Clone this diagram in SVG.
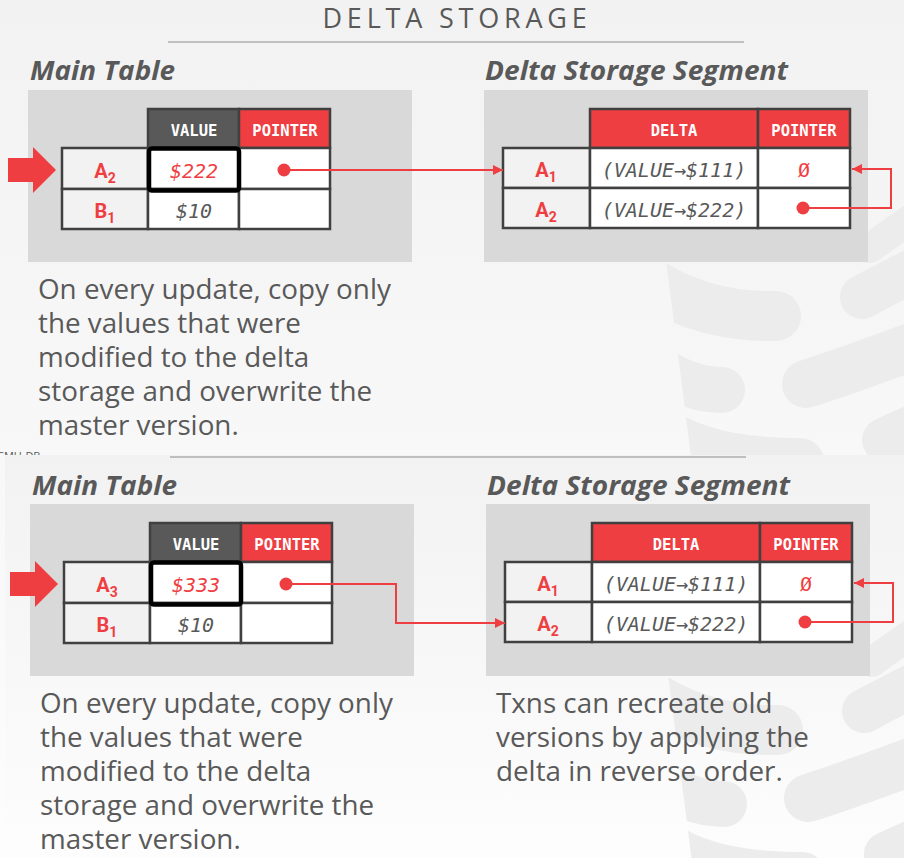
<svg xmlns="http://www.w3.org/2000/svg" xmlns:xlink="http://www.w3.org/1999/xlink" width="904" height="858" viewBox="0 0 904 858">
<defs>
<style>
.title{font-family:"Open Sans","Liberation Sans",sans-serif;font-size:27px;fill:#595959;letter-spacing:4.8px;text-anchor:middle}
.sub{font-family:"Open Sans","Liberation Sans",sans-serif;font-weight:bold;font-style:italic;font-size:27px;fill:#595959}
.body{font-family:"Open Sans","Liberation Sans",sans-serif;font-size:27.8px;fill:#595959}
.hdr{font-family:"DejaVu Sans Mono",monospace;font-weight:bold;font-size:15.5px;fill:#ffffff;text-anchor:middle}
.cell{font-family:"DejaVu Sans Mono",monospace;font-style:italic;font-size:20px;fill:#595959;text-anchor:middle}
.red{fill:#ef3e42}
.key{font-family:"Roboto","Liberation Sans",sans-serif;font-weight:bold;font-size:20px;fill:#ef3e42;text-anchor:middle}
.ks{font-size:14px}
.box{fill:#d9d9d9}
.kc{fill:#f2f2f2;stroke:#404040;stroke-width:2.5}
.vc{fill:#ffffff;stroke:#404040;stroke-width:2.5}
.hd{fill:#595959;stroke:#404040;stroke-width:2.5}
.hr{fill:#ef3e42;stroke:#404040;stroke-width:2.5}
.sel{fill:none;stroke:#000;stroke-width:4.5}
.conn{fill:none;stroke:#ef3e42;stroke-width:2}
.dot{fill:#ef3e42}
.band{fill:none;stroke:#ececec;stroke-linecap:round}
.rule{stroke:#bfbfbf;stroke-width:2}
</style>
<linearGradient id="bg" x1="0" y1="0" x2="0" y2="1">
<stop offset="0" stop-color="#f2f2f2"/>
<stop offset="1" stop-color="#fdfdfd"/>
</linearGradient>
<marker id="ah" viewBox="0 0 10 10" refX="10" refY="5" markerWidth="10" markerHeight="10" markerUnits="userSpaceOnUse" orient="auto">
<path d="M0,0 L10,5 L0,10 z" fill="#ef3e42"/>
</marker>
<clipPath id="cyl"><polygon points="652,150 960,150 960,480 694,480"/></clipPath>
<clipPath id="topclip"><rect x="-10" y="0" width="920" height="455"/></clipPath>
<g id="logo" clip-path="url(#cyl)">
<path class="band" stroke-width="30" d="M870 248 Q892 232 930 206"/>
<path class="band" stroke-width="50" d="M640 276 Q700 318 776 316"/>
<path class="band" stroke-width="44" d="M862 297 Q890 282 930 262"/>
<path class="band" stroke-width="46" d="M645 360 Q685 390 722 390"/>
<path class="band" stroke-width="48" d="M806 384 Q850 370 930 340"/>
<path class="band" stroke-width="48" d="M655 425 Q700 462 800 462"/>
<path class="band" stroke-width="44" d="M884 440 Q900 432 930 420"/>
</g>
</defs>

<!-- top slide -->
<rect x="0" y="0" width="904" height="858" fill="url(#bg)"/>
<g clip-path="url(#topclip)"><use xlink:href="#logo"/></g>
<text x="457" y="28" class="title">DELTA STORAGE</text>
<line class="rule" x1="168" y1="42" x2="744" y2="42"/>
<text x="30" y="80" class="sub" textLength="145" lengthAdjust="spacingAndGlyphs">Main Table</text>
<text x="485" y="80" class="sub" textLength="303" lengthAdjust="spacingAndGlyphs">Delta Storage Segment</text>
<rect class="box" x="28" y="90" width="384" height="172"/>
<rect class="box" x="484" y="90" width="384" height="172"/>

<g id="main-table-1">
<polygon class="dot" points="8,158 33,158 33,147 56,170 33,193 33,182 8,182"/>
<rect class="hd" x="148" y="109" width="91" height="39"/>
<rect class="hr" x="239" y="109" width="91" height="39"/>
<text class="hdr" x="194" y="136">VALUE</text>
<text class="hdr" x="285" y="136">POINTER</text>
<rect class="kc" x="62" y="148" width="86" height="41"/>
<rect class="vc" x="148" y="148" width="91" height="41"/>
<rect class="vc" x="239" y="148" width="91" height="41"/>
<rect class="kc" x="62" y="189" width="86" height="40"/>
<rect class="vc" x="148" y="189" width="91" height="40"/>
<rect class="vc" x="239" y="189" width="91" height="40"/>
<rect class="sel" x="149" y="148.5" width="90" height="42" rx="3"/>
<text class="key" x="105" y="178">A<tspan class="ks" dy="5">2</tspan></text>
<text class="key" x="105" y="218">B<tspan class="ks" dy="5">1</tspan></text>
<text class="cell red" x="194" y="178">$222</text>
<text class="cell" x="194" y="218">$10</text>
<circle class="dot" cx="284" cy="170" r="6.5"/>
</g>

<g id="delta-table-1">
<rect class="hr" x="590" y="109" width="168" height="39"/>
<rect class="hr" x="758" y="109" width="92" height="39"/>
<text class="hdr" x="674" y="136">DELTA</text>
<text class="hdr" x="804" y="136">POINTER</text>
<rect class="kc" x="503" y="148" width="87" height="40"/>
<rect class="vc" x="590" y="148" width="168" height="40"/>
<rect class="vc" x="758" y="148" width="92" height="40"/>
<rect class="kc" x="503" y="188" width="87" height="40"/>
<rect class="vc" x="590" y="188" width="168" height="40"/>
<rect class="vc" x="758" y="188" width="92" height="40"/>
<text class="key" x="546" y="177">A<tspan class="ks" dy="5">1</tspan></text>
<text class="key" x="546" y="217">A<tspan class="ks" dy="5">2</tspan></text>
<text class="cell" x="674" y="177">(VALUE→$111)</text>
<text class="cell" x="674" y="217">(VALUE→$222)</text>
<text class="cell red" x="804" y="177" style="font-style:normal">Ø</text>
<circle class="dot" cx="803" cy="208" r="6.5"/>
</g>

<g id="connectors-1">
<path class="conn" d="M284 170 H503" marker-end="url(#ah)"/>
<path class="conn" d="M803 208 H891 V169 H852" marker-end="url(#ah)"/>
</g>

<g id="text-1">
<text class="body" x="38" y="299">On every update, copy only</text>
<text class="body" x="38" y="333">the values that were</text>
<text class="body" x="38" y="367">modified to the delta</text>
<text class="body" x="38" y="401">storage and overwrite the</text>
<text class="body" x="38" y="435">master version.</text>
</g>
<g clip-path="url(#topclip)"><text x="-3" y="460" style="font-family:'Open Sans','Liberation Sans',sans-serif;font-size:11px;fill:#595959">CMU-DB</text></g>

<!-- bottom slide -->
<rect x="5" y="455" width="899" height="403" fill="url(#bg)"/>
<g transform="translate(2,414)">
<use xlink:href="#logo"/>
<line class="rule" x1="168" y1="43" x2="744" y2="43"/>
<text x="30" y="81" class="sub" textLength="145" lengthAdjust="spacingAndGlyphs">Main Table</text>
<text x="485" y="81" class="sub" textLength="303" lengthAdjust="spacingAndGlyphs">Delta Storage Segment</text>
<rect class="box" x="28" y="90" width="384" height="172"/>
<rect class="box" x="484" y="90" width="384" height="172"/>

<g id="main-table-2">
<polygon class="dot" points="8,158 33,158 33,147 56,170 33,193 33,182 8,182"/>
<rect class="hd" x="148" y="109" width="91" height="39"/>
<rect class="hr" x="239" y="109" width="91" height="39"/>
<text class="hdr" x="194" y="136">VALUE</text>
<text class="hdr" x="285" y="136">POINTER</text>
<rect class="kc" x="62" y="148" width="86" height="41"/>
<rect class="vc" x="148" y="148" width="91" height="41"/>
<rect class="vc" x="239" y="148" width="91" height="41"/>
<rect class="kc" x="62" y="189" width="86" height="40"/>
<rect class="vc" x="148" y="189" width="91" height="40"/>
<rect class="vc" x="239" y="189" width="91" height="40"/>
<rect class="sel" x="149" y="148.5" width="90" height="42" rx="3"/>
<text class="key" x="105" y="178">A<tspan class="ks" dy="5">3</tspan></text>
<text class="key" x="105" y="218">B<tspan class="ks" dy="5">1</tspan></text>
<text class="cell red" x="194" y="178">$333</text>
<text class="cell" x="194" y="218">$10</text>
<circle class="dot" cx="284" cy="170" r="6.5"/>
</g>

<g id="delta-table-2">
<rect class="hr" x="590" y="109" width="168" height="39"/>
<rect class="hr" x="758" y="109" width="92" height="39"/>
<text class="hdr" x="674" y="136">DELTA</text>
<text class="hdr" x="804" y="136">POINTER</text>
<rect class="kc" x="503" y="148" width="87" height="40"/>
<rect class="vc" x="590" y="148" width="168" height="40"/>
<rect class="vc" x="758" y="148" width="92" height="40"/>
<rect class="kc" x="503" y="188" width="87" height="40"/>
<rect class="vc" x="590" y="188" width="168" height="40"/>
<rect class="vc" x="758" y="188" width="92" height="40"/>
<text class="key" x="546" y="177">A<tspan class="ks" dy="5">1</tspan></text>
<text class="key" x="546" y="217">A<tspan class="ks" dy="5">2</tspan></text>
<text class="cell" x="674" y="177">(VALUE→$111)</text>
<text class="cell" x="674" y="217">(VALUE→$222)</text>
<text class="cell red" x="804" y="177" style="font-style:normal">Ø</text>
<circle class="dot" cx="803" cy="208" r="6.5"/>
</g>

<g id="connectors-2">
<path class="conn" d="M284 170 H394 V209 H503" marker-end="url(#ah)"/>
<path class="conn" d="M803 208 H891 V169 H852" marker-end="url(#ah)"/>
</g>

<g id="text-2">
<text class="body" x="38" y="299">On every update, copy only</text>
<text class="body" x="38" y="333">the values that were</text>
<text class="body" x="38" y="367">modified to the delta</text>
<text class="body" x="38" y="401">storage and overwrite the</text>
<text class="body" x="38" y="435">master version.</text>
<text class="body" x="494" y="299">Txns can recreate old</text>
<text class="body" x="494" y="333">versions by applying the</text>
<text class="body" x="494" y="367">delta in reverse order.</text>
</g>
</g>
</svg>
